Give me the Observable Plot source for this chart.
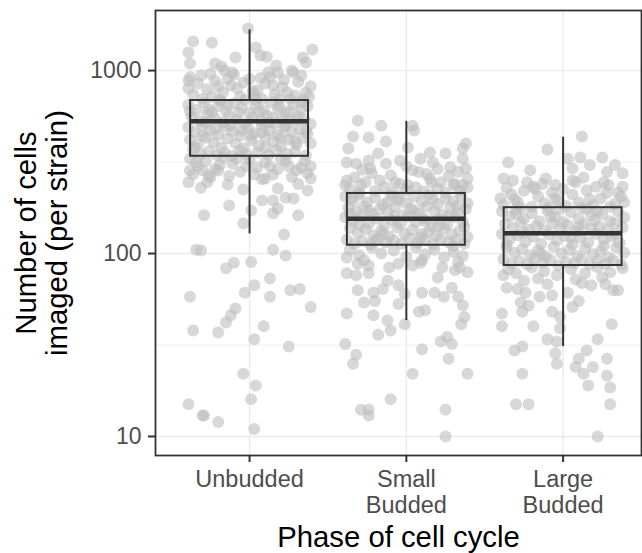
<!DOCTYPE html>
<html><head><meta charset="utf-8">
<script src="https://cdn.jsdelivr.net/npm/d3@7"></script>
<script src="https://cdn.jsdelivr.net/npm/@observablehq/plot@0.6"></script>
<style>body{margin:0;background:#fff;}</style>
</head><body><div id="chart"></div>
<script>
const categories = ["Unbudded", "Small\nBudded", "Large\nBudded"];
const lowerWhisker = [128, 43, 31];
const q1 = [340, 111, 86];
const median = [528, 155, 129];
const q3 = [686, 213, 178];
const upperWhisker = [1669, 528, 432];
const yTicks = [10, 100, 1000];
const yMinorTicks = [31.6, 316];

// [jitter (category units), number of cells]
const unbuddedPoints = [
[-0.01,1698],[-0.36,1440],[-0.24,1420],[-0.39,1254],[0.04,1336],[0.07,1208],[0.11,1190],[0.4,1303],[0.34,1178],[-0.09,1178],[0.36,1106],[-0.38,1092],[-0.22,1092],[-0.18,1052],[0.17,1065],[0.18,975],[-0.11,975],[0.28,975],[-0.39,882],
[-0.38,920],[-0.33,850],[-0.27,790],[-0.22,880],[-0.17,760],[-0.12,830],[-0.06,720],[0.0,900],[0.05,780],[0.1,850],[0.16,740],[0.21,810],[0.26,700],[0.31,870],[0.36,760],[0.39,820],[-0.36,740],[-0.3,700],[-0.24,720],[-0.19,690],[-0.14,900],[-0.08,800],[-0.03,690],[0.03,730],[0.08,700],[0.13,920],[0.19,700],[0.24,760],[0.29,730],[0.34,690],[-0.39,800],[-0.1,950],[0.12,980],[0.27,1000],[-0.25,960],
[-0.31,940],[-0.2,820],[-0.04,860],[0.07,910],[0.22,890],[0.33,940],[0.38,720],[-0.16,1000],[0.02,770],[0.15,830],
[-0.39,650],[-0.34,610],[-0.29,665],[-0.24,590],[-0.2,640],[-0.15,600],[-0.1,660],[-0.05,625],[0.0,585],[0.04,645],[0.09,605],[0.14,670],[0.18,620],[0.23,580],[0.28,650],[0.33,610],[0.37,640],
[-0.37,560],[-0.32,530],[-0.27,575],[-0.22,545],[-0.17,520],[-0.13,565],[-0.08,540],[-0.03,510],[0.02,555],[0.07,530],[0.11,570],[0.16,515],[0.21,550],[0.26,525],[0.31,565],[0.35,540],[0.39,510],
[-0.39,490],[-0.35,460],[-0.3,500],[-0.25,470],[-0.2,445],[-0.16,495],[-0.11,465],[-0.06,440],[-0.01,485],[0.03,455],[0.08,500],[0.13,470],[0.18,445],[0.22,490],[0.27,460],[0.32,480],[0.37,450],
[-0.38,420],[-0.33,395],[-0.28,430],[-0.23,405],[-0.18,380],[-0.14,425],[-0.09,400],[-0.04,375],[0.01,415],[0.06,390],[0.1,435],[0.15,410],[0.2,385],[0.25,420],[0.3,395],[0.34,430],[0.39,400],
[-0.36,370],[-0.31,350],[-0.26,362],[-0.21,345],[-0.16,358],[-0.11,342],[-0.06,366],[-0.02,348],[0.05,355],[0.12,345],[0.17,368],[0.24,350],[0.29,360],[0.36,345],
[-0.26,610],[0.06,600],[0.3,540],[-0.05,470],[0.2,430],[-0.3,440],[0.12,520],[-0.18,680],[0.04,690],[0.33,670],
[-0.12,500],[0.25,600],[-0.35,380],[0.08,460],[-0.22,480],[0.15,550],[0.36,470],[-0.07,590],[0.19,640],[-0.28,520],[0.01,440],[0.29,410],[-0.14,650],[0.1,380],[-0.38,600],[0.23,500],
[-0.38,330],[-0.33,300],[-0.28,320],[-0.22,290],[-0.17,335],[-0.11,310],[-0.06,280],[0.0,325],[0.05,295],[0.1,315],[0.15,270],[0.2,330],[0.25,300],[0.3,285],[0.35,320],[0.39,300],[-0.36,270],[-0.25,260],[-0.13,265],[0.08,255],[0.27,262],[0.37,275],[-0.02,300],[0.18,290],[-0.3,285],
[-0.34,315],[-0.19,305],[-0.08,330],[0.13,300],[0.23,320],[0.33,295],[-0.27,245],[0.03,270],[0.31,240],
[-0.38,284],[-0.39,245],[-0.31,229],[-0.26,267],[-0.2,284],[-0.14,238],[-0.04,224],[-0.29,162],[-0.13,183],[0.01,172],[-0.04,146],[0.08,195],[0.15,195],[0.18,176],[0.23,202],[0.1,257],[0.18,227],[0.28,200],[0.31,162],[0.37,221],[0.39,257],[0.15,166],[0.22,127],
[-0.34,105],[-0.31,104],[-0.1,89],[-0.15,83],[0.01,90],[0.15,105],[0.23,97.5],[-0.38,58],[0.03,67],[-0.03,61],[0.13,73],[0.13,58],[0.26,63],[0.32,64],[0.39,51],[-0.09,50],[-0.12,46],[-0.15,42],[-0.36,38],[-0.2,37],[0.09,40],[0.03,34],[0.25,31],[-0.04,22],[0.04,19],[0.01,16],[-0.39,15],[-0.3,13],[-0.29,13],[-0.2,12],[0.03,11]
];

const smallBuddedPoints = [
[-0.31,533],[-0.16,500],[0.04,500],[0.05,470],[-0.34,436],[-0.24,430],[-0.13,410],[-0.37,375],[0.38,399],[0.36,375],[-0.18,352],[0.01,380],[0.15,357],[0.25,352],[-0.38,314],[-0.32,310],[-0.24,322],[-0.23,292],[-0.13,310],[-0.04,322],[0.09,330],[0.17,314],[0.36,330],[0.38,292],[0.28,296],[0.04,285],[-0.38,251],[-0.39,237],[-0.17,251],[-0.07,245],[0.15,257],[0.22,245],[0.39,257],[0.08,279],[-0.29,237],[0.01,237],[0.3,237],[0.36,237],
[-0.36,225],[-0.3,215],[-0.26,245],[-0.2,220],[-0.14,232],[-0.09,215],[-0.04,240],[0.0,222],[0.06,230],[0.11,218],[0.16,245],[0.2,226],[0.25,215],[0.31,240],[0.34,220],[0.39,230],[-0.33,260],[-0.1,268],[0.13,272],[0.27,265],[-0.22,275],[0.2,290],[0.33,280],[-0.28,288],[0.0,300],
[-0.39,205],[-0.34,195],[-0.3,210],[-0.25,190],[-0.2,202],[-0.15,185],[-0.1,208],[-0.05,196],[0.0,188],[0.05,205],[0.1,192],[0.15,210],[0.2,186],[0.25,200],[0.3,193],[0.35,207],[0.39,188],
[-0.37,178],[-0.32,170],[-0.27,182],[-0.22,165],[-0.17,175],[-0.12,168],[-0.07,180],[-0.02,162],[0.03,176],[0.08,166],[0.13,181],[0.18,170],[0.23,163],[0.28,178],[0.33,168],[0.38,175],
[-0.39,158],[-0.34,150],[-0.29,160],[-0.24,146],[-0.19,155],[-0.14,142],[-0.09,152],[-0.04,145],[0.01,159],[0.06,148],[0.11,156],[0.16,141],[0.21,153],[0.26,144],[0.31,158],[0.36,149],
[-0.36,138],[-0.31,130],[-0.26,136],[-0.21,126],[-0.16,133],[-0.11,124],[-0.06,139],[-0.01,128],[0.04,135],[0.09,122],[0.14,131],[0.19,125],[0.24,137],[0.29,127],[0.34,133],[0.39,123],
[-0.38,119],[-0.33,113],[-0.28,117],[-0.23,112],[-0.18,120],[-0.13,115],[-0.08,118],[-0.03,113],[0.02,121],[0.07,114],[0.12,118],[0.17,112],[0.22,120],[0.27,115],[0.32,119],[0.37,113],
[-0.35,200],[-0.12,190],[0.17,198],[0.32,182],[-0.24,172],[0.05,170],[0.27,160],[-0.08,160],[0.2,140],[-0.3,143],[0.1,128],[-0.2,118],[0.3,110],[-0.05,205],[0.12,150],[-0.36,165],[0.37,140],[-0.15,128],
[-0.36,105],[-0.3,98],[-0.22,108],[-0.16,100],[-0.08,104],[0.0,96],[0.06,108],[0.12,99],[0.18,105],[0.24,95],[0.3,102],[0.36,97],[-0.27,92],[0.1,92],[0.33,90],
[-0.38,95],[-0.31,88],[-0.38,78],[-0.24,86],[-0.11,84],[-0.05,88],[0.04,86],[0.09,89],[0.23,84],[0.34,84],[0.39,79],[0.31,81],[0.2,74],[-0.32,76],[-0.24,78],[-0.31,63],[-0.27,54],[-0.21,61],[-0.2,55],[-0.15,64],[-0.12,71],[-0.05,67],[-0.05,53],[-0.01,60],[0.1,61],[0.18,61],[0.24,58],[0.29,65],[0.33,58],[0.36,52],[0.08,48],[0.12,49],[-0.38,47],[-0.21,46],[-0.12,43],[-0.1,38],[-0.18,36],[-0.01,41],[0.37,45],[0.35,41],[-0.39,32],[0.22,33],[0.26,35],[0.29,32],[0.1,30],[-0.32,28],[-0.34,25],[0.27,26.6],[0.04,22],[0.39,22],[-0.1,16],[-0.29,14],[-0.24,14],[-0.24,13],[0.25,14],[0.25,10]
];

const largeBuddedPoints = [
[0.12,436],[-0.1,370],[-0.35,314],[0.03,330],[0.11,335],[0.25,335],[0.33,305],[-0.21,285],[0.06,292],[0.17,305],[-0.38,257],[-0.32,251],[-0.11,257],[-0.05,237],[0.13,260],[0.28,279],[0.38,275],[0.38,232],[0.29,237],[0.06,251],[-0.19,232],[-0.4,200],
[-0.38,185],[-0.33,210],[-0.29,192],[-0.25,220],[-0.2,180],[-0.16,205],[-0.12,188],[-0.07,215],[-0.03,195],[0.02,182],[0.06,210],[0.1,190],[0.15,222],[0.19,184],[0.24,200],[0.28,215],[0.33,187],[0.37,205],[-0.36,228],[-0.27,178],[-0.18,226],[-0.09,178],[0.0,225],[0.12,178],[0.21,232],[0.3,180],[0.39,190],[-0.13,240],[0.08,245],[0.26,245],[-0.23,245],[0.35,215],[-0.05,200],[0.17,198],[-0.31,198],
[-0.39,170],[-0.34,160],[-0.3,174],[-0.25,155],[-0.2,166],[-0.15,150],[-0.1,172],[-0.05,158],[0.0,148],[0.05,168],[0.1,155],[0.15,175],[0.2,152],[0.25,164],[0.3,150],[0.35,170],[0.39,158],
[-0.37,145],[-0.32,138],[-0.27,148],[-0.22,135],[-0.17,142],[-0.12,133],[-0.07,146],[-0.02,137],[0.03,143],[0.08,132],[0.13,145],[0.18,136],[0.23,141],[0.28,134],[0.33,147],[0.38,139],
[-0.39,128],[-0.34,120],[-0.29,126],[-0.24,116],[-0.19,124],[-0.14,113],[-0.09,127],[-0.04,118],[0.01,125],[0.06,112],[0.11,122],[0.16,115],[0.21,128],[0.26,119],[0.31,124],[0.36,114],
[-0.36,108],[-0.31,101],[-0.26,106],[-0.21,98],[-0.16,104],[-0.11,96],[-0.06,109],[-0.01,100],[0.04,105],[0.09,97],[0.14,107],[0.19,99],[0.24,103],[0.29,95],[0.34,108],[0.39,101],
[-0.38,93],[-0.33,88],[-0.28,91],[-0.23,87],[-0.18,94],[-0.13,89],[-0.08,92],[-0.03,86],[0.02,90],[0.07,88],[0.12,93],[0.17,87],[0.22,91],[0.27,88],[0.32,92],[0.37,87],
[-0.3,165],[-0.08,160],[0.18,162],[0.33,128],[-0.25,130],[0.05,122],[0.26,110],[-0.14,100],[0.1,140],[-0.36,112],[0.22,170],[-0.02,175],
[-0.35,82],[-0.3,78],[-0.2,84],[-0.12,80],[-0.04,76],[0.05,82],[0.14,78],[0.22,84],[0.3,79],[0.38,83],[-0.16,73],[0.25,74],[0.08,72],
[-0.38,76],[-0.29,64],[-0.36,65],[-0.25,71],[-0.24,61],[-0.15,58],[-0.07,59],[-0.1,68],[0.12,69],[0.18,67],[0.27,68],[0.32,63],[0.35,63],[0.03,61],[0.1,55],[0.06,51],[-0.27,54],[-0.39,47],[-0.39,40],[-0.26,48],[-0.22,52],[-0.07,48],[-0.02,45],[-0.19,40],[-0.02,39],[0.31,41],[-0.1,34],[-0.04,33],[0.22,34],[-0.31,29.5],[-0.26,31],[-0.05,28.5],[0.15,29.5],[0.1,26.6],[0.28,26.6],[-0.04,25],[0.08,24],[0.19,24],[0.13,22],[0.28,21.5],[-0.26,22],[0.16,19],[0.3,18.5],[-0.3,15],[-0.22,15],[0.3,15],[0.22,10]
];

const points = [unbuddedPoints, smallBuddedPoints, largeBuddedPoints]
  .flatMap((arr, i) => arr.map(([j, v]) => ({pos: i + 1, jitter: j, value: v})));
const boxes = categories.map((c, i) => ({
  pos: i + 1, lo: lowerWhisker[i], q1: q1[i], med: median[i], q3: q3[i], hi: upperWhisker[i]
}));
const halfWidth = 0.376;
const ink = "#333333";

const chart = Plot.plot({
  width: 642, height: 553,
  marginLeft: 155, marginRight: 1, marginTop: 10, marginBottom: 98,
  style: {fontFamily: "'Liberation Sans', Arial, sans-serif", background: "#ffffff"},
  x: {type: "linear", domain: [0.4, 3.5]},
  y: {type: "log", domain: [7.87, 2130]},
  marks: [
    Plot.ruleY(yMinorTicks, {stroke: "#ebebeb", strokeWidth: 0.7}),
    Plot.ruleY(yTicks, {stroke: "#ebebeb", strokeWidth: 1.4}),
    Plot.ruleX([1, 2, 3], {stroke: "#ebebeb", strokeWidth: 1.4}),
    Plot.dot(points, {x: d => d.pos + d.jitter, y: "value", r: 6, fill: "#bebebe", fillOpacity: 0.6, stroke: null}),
    Plot.ruleX(boxes, {x: "pos", y1: "q3", y2: "hi", stroke: ink, strokeWidth: 2}),
    Plot.ruleX(boxes, {x: "pos", y1: "lo", y2: "q1", stroke: ink, strokeWidth: 2}),
    Plot.rect(boxes, {x1: d => d.pos - halfWidth, x2: d => d.pos + halfWidth, y1: "q1", y2: "q3", fill: "none", stroke: ink, strokeWidth: 2}),
    Plot.ruleY(boxes, {y: "med", x1: d => d.pos - halfWidth, x2: d => d.pos + halfWidth, stroke: ink, strokeWidth: 4.5}),
    Plot.frame({stroke: ink, strokeWidth: 1.8}),
    Plot.axisY(yTicks, {tickFormat: d => String(d), tickSize: 7, tickPadding: 7, fontSize: 23, stroke: ink, fill: "#4d4d4d", strokeWidth: 2, label: null}),
    Plot.axisX([1, 2, 3], {tickFormat: d => categories[d - 1], tickSize: 7, tickPadding: 6, fontSize: 23.5, lineHeight: 1.1, stroke: ink, fill: "#4d4d4d", strokeWidth: 2, label: null}),
    Plot.text(["Number of cells\nimaged (per strain)"], {frameAnchor: "left", textAnchor: "middle", lineAnchor: "middle", rotate: -90, dx: -114, fontSize: 29.3, lineHeight: 1.06, fill: "#000"}),
    Plot.text(["Phase of cell cycle"], {frameAnchor: "bottom", textAnchor: "middle", lineAnchor: "middle", dy: 82, fontSize: 29.3, fill: "#000"})
  ]
});
document.getElementById("chart").appendChild(chart);
</script>
</body></html>
